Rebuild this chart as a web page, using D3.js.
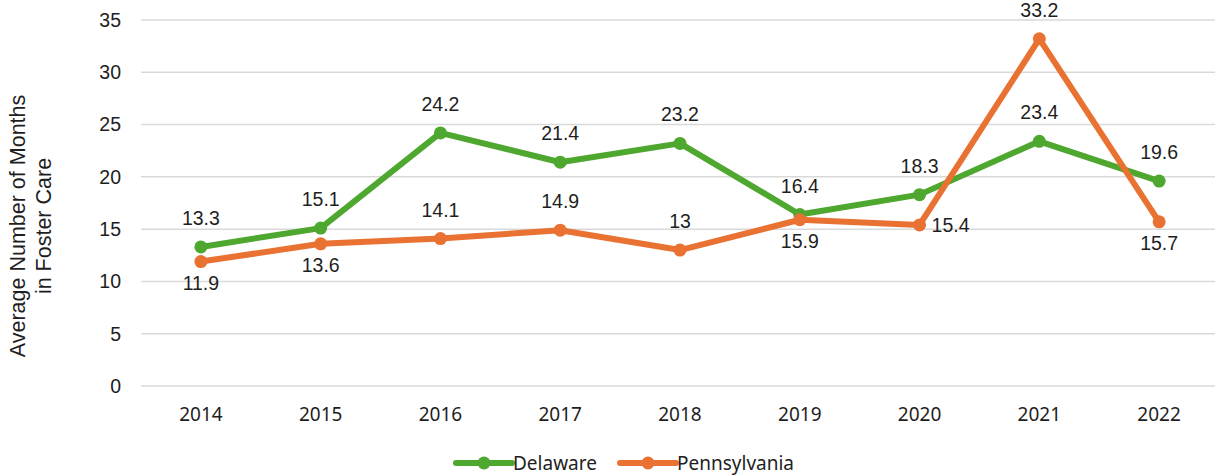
<!DOCTYPE html>
<html>
<head>
<meta charset="utf-8">
<script src="https://cdn.jsdelivr.net/npm/d3@7/dist/d3.min.js"></script>
<style>
  body { margin: 0; background: #fff; }
  svg text { fill: #1e1e1e; }
</style>
</head>
<body>
<div id="chart"></div>
<script>
const width = 1220;
const height = 475;

const years = ['2014', '2015', '2016', '2017', '2018', '2019', '2020', '2021', '2022'];
const delaware = [13.3, 15.1, 24.2, 21.4, 23.2, 16.4, 18.3, 23.4, 19.6];
const pennsylvania = [11.9, 13.6, 14.1, 14.9, 13, 15.9, 15.4, 33.2, 15.7];
// where each label sits relative to its point
const delaware_pos = ['above', 'above', 'above', 'above', 'above', 'above', 'above', 'above', 'above'];
const penn_pos = ['below', 'below', 'above', 'above', 'above', 'below', 'right', 'above', 'below'];
const y_ticks = [0, 5, 10, 15, 20, 25, 30, 35];

const green = '#4ea72e';
const orange = '#e97132';

const margin = {left: 141, right: 1, top: 20, bottom: 89};

var svg = d3.select('#chart')
            .append('svg')
            .attr('width', width)
            .attr('height', height);

var xScale = d3.scaleBand()
               .domain(years)
               .range([margin.left, width - margin.right]);
var yScale = d3.scaleLinear()
               .domain([0, 35])
               .range([height - margin.bottom, margin.top]);

// gridlines
svg.append('g')
   .selectAll('line')
   .data(y_ticks)
   .enter()
   .append('line')
   .attr('x1', margin.left)
   .attr('x2', width - 5)
   .attr('y1', function(d){ return yScale(d); })
   .attr('y2', function(d){ return yScale(d); })
   .attr('stroke', '#d9d9d9')
   .attr('stroke-width', 1.5);

// y tick labels
svg.append('g')
   .selectAll('text')
   .data(y_ticks)
   .enter()
   .append('text')
   .attr('x', 121)
   .attr('y', function(d){ return yScale(d); })
   .attr('dy', '0.35em')
   .attr('text-anchor', 'end')
   .style('font-family', 'Liberation Sans, Arial, sans-serif')
   .style('font-size', '19.5px')
   .text(function(d){ return d; });

// x tick labels
svg.append('g')
   .selectAll('text')
   .data(years)
   .enter()
   .append('text')
   .attr('x', function(d){ return xScale(d) + xScale.bandwidth() / 2; })
   .attr('y', 421)
   .attr('text-anchor', 'middle')
   .style('font-family', 'Noto Sans, sans-serif')
   .style('font-size', '19px')
   .text(function(d){ return d; });

// axis title
var title = svg.append('text')
   .attr('transform', 'translate(33,' + 226 + ') rotate(-90)')
   .attr('text-anchor', 'middle')
   .style('font-family', 'Liberation Sans, Arial, sans-serif')
   .style('font-size', '21.5px');
title.append('tspan').attr('x', 0).attr('dy', '-0.35em').text('Average Number of Months');
title.append('tspan').attr('x', 0).attr('dy', '1.2em').text('in Foster Care');

function draw_series(values, color, positions){
    var pts = values.map(function(v, i){ return {year: years[i], value: v, pos: positions[i]}; });
    var line = d3.line()
                 .x(function(d){ return xScale(d.year) + xScale.bandwidth() / 2; })
                 .y(function(d){ return yScale(d.value); });
    var g = svg.append('g');
    g.append('path')
     .datum(pts)
     .attr('d', line)
     .attr('fill', 'none')
     .attr('stroke', color)
     .attr('stroke-width', 6)
     .attr('stroke-linejoin', 'round');
    g.selectAll('circle')
     .data(pts)
     .enter()
     .append('circle')
     .attr('cx', function(d){ return xScale(d.year) + xScale.bandwidth() / 2; })
     .attr('cy', function(d){ return yScale(d.value); })
     .attr('r', 6.5)
     .attr('fill', color);
    g.selectAll('text')
     .data(pts)
     .enter()
     .append('text')
     .attr('x', function(d){
         var cx = xScale(d.year) + xScale.bandwidth() / 2;
         return d.pos == 'right' ? cx + 12 : cx;
     })
     .attr('y', function(d){
         var cy = yScale(d.value);
         if(d.pos == 'above') return cy - 22;
         if(d.pos == 'below') return cy + 28;
         return cy + 7;
     })
     .attr('text-anchor', function(d){ return d.pos == 'right' ? 'start' : 'middle'; })
     .style('font-family', 'Liberation Sans, Arial, sans-serif')
     .style('font-size', '19.5px')
     .text(function(d){ return d.value; });
}

draw_series(delaware, green, delaware_pos);
draw_series(pennsylvania, orange, penn_pos);

// legend
var legend_items = [
    {name: 'Delaware', color: green, x: 456},
    {name: 'Pennsylvania', color: orange, x: 620}
];
var lg = svg.append('g').selectAll('g')
            .data(legend_items)
            .enter()
            .append('g');
lg.append('line')
  .attr('x1', function(d){ return d.x; })
  .attr('x2', function(d){ return d.x + 56; })
  .attr('y1', 463)
  .attr('y2', 463)
  .attr('stroke', function(d){ return d.color; })
  .attr('stroke-width', 6)
  .attr('stroke-linecap', 'round');
lg.append('circle')
  .attr('cx', function(d){ return d.x + 28; })
  .attr('cy', 463)
  .attr('r', 6.5)
  .attr('fill', function(d){ return d.color; });
lg.append('text')
  .attr('x', function(d){ return d.x + 57; })
  .attr('y', 463)
  .attr('dy', '0.35em')
  .style('font-family', 'Noto Sans, sans-serif')
  .style('font-size', '19px')
  .text(function(d){ return d.name; });
</script>
</body>
</html>
